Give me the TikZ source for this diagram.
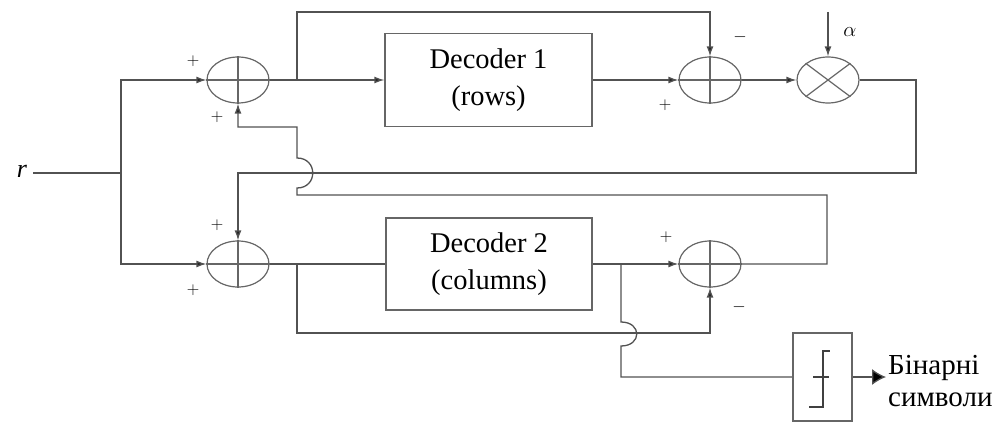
\documentclass[tikz,border=0pt]{standalone}
\usepackage{fontspec}
\setmainfont{Liberation Serif}
\usetikzlibrary{shapes.geometric,arrows.meta}
\begin{document}
\begin{tikzpicture}[x=1pt,y=-1pt,
  wire/.style={draw=black!68, line width=1.3pt},
  sig/.style={wire, -{Latex[length=10pt,width=7pt,fill=black!85]}},
  sumj/.style={ellipse, draw=black!60, line width=1.2pt, minimum width=62pt,
    minimum height=46pt, inner sep=0pt},
  block/.style={rectangle, draw=black!60, line width=1.3pt, inner sep=0pt,
    align=center, font=\fontsize{28.5}{37}\selectfont},
  sign/.style={inner sep=0pt, font=\fontsize{18}{18}\selectfont}
]
\useasboundingbox (0,0) rectangle (992,425);

% summing junctions, multiplier, decoders, hard decision
\node[sumj] (s1) at (238,80) {};
\node[sumj] (s2) at (238,264) {};
\node[sumj] (s3) at (710,80) {};
\node[sumj] (s4) at (710,264) {};
\node[sumj] (m)  at (828,80) {};
\node[block, minimum width=207pt, minimum height=93pt] (d1) at (488.5,80) {Decoder 1\\(rows)};
\node[block, minimum width=206pt, minimum height=92pt] (d2) at (489,264) {Decoder 2\\(columns)};
\node[rectangle, draw=black!60, line width=2.2pt, minimum width=59pt,
  minimum height=88pt, inner sep=0pt] (th) at (822.5,377) {};

% crosses inside the junctions
\foreach \s in {s1,s2,s3,s4}{
  \draw[draw=black!60, line width=1.2pt] (\s.north) -- (\s.south);
  \draw[draw=black!60, line width=1.2pt] (\s.west) -- (\s.east);
}
\draw[draw=black!60, line width=1.2pt] (m.north west) -- (m.south east);
\draw[draw=black!60, line width=1.2pt] (m.north east) -- (m.south west);

% step characteristic
\draw[draw=black!75, line width=2pt] (809,407) -- (823,407) -- (823,351) -- (830,351);
\draw[draw=black!75, line width=2pt] (813,377) -- (829,377);

% input
\node[inner sep=0pt, font=\fontsize{26}{26}\selectfont\itshape] (r) at (22,171) {r};
\coordinate (rin) at (33,173);
\coordinate (jr) at (121,173);
\draw[wire] (rin) -- (jr);
\draw[sig] (jr) |- (s1.west);
\draw[sig] (jr) |- (s2.west);

% row decoder branch
\draw[sig] (s1.east) -- (d1.west);
\draw[sig] (297,80) -- (297,12) -| (s3.north);
\draw[sig] (d1.east) -- (s3.west);
\draw[sig] (s3.east) -- (m.west);
\coordinate (atop) at (828,12);
\draw[sig] (atop) -- (m.north);
\node[inner sep=0pt, font=\fontsize{20}{20}\selectfont] (alpha) at (850,32) {$\alpha$};
\draw[sig] (m.east) -- (916,80) -- (916,173) -| (s2.north);

% column decoder branch
\draw[wire] (s2.east) -- (d2.west);
\draw[sig] (297,264) -- (297,333) -| (s4.south);
\draw[sig] (d2.east) -- (s4.west);
\draw[sig] (s4.east) -- (827,264) -- (827,195) -- (297,195) -- (297,188)
  .. controls (318,188) and (318,158) .. (297,158) -- (297,127) -| (s1.south);
\draw[wire] (621,264) -- (621,322) .. controls (642,322) and (642,346) .. (621,346)
  -- (621,377) -- (th.west);

% output
\coordinate (out) at (886,377);
\draw[wire, -{Latex[length=14pt,width=16pt,fill=black]}] (th.east) -- (out);
\node[anchor=west, align=left, inner sep=0pt, font=\fontsize{29}{32}\selectfont] (lbl)
  at (888,381) {Бінарні\\символи};

% signs
\node[sign] (p1) at (193,61) {$+$};
\node[sign] (p2) at (217,117) {$+$};
\node[sign] (p3) at (217,225) {$+$};
\node[sign] (p4) at (193,290) {$+$};
\node[sign] (p5) at (665,105) {$+$};
\node[sign] (n1) at (740,37) {$-$};
\node[sign] (p6) at (666,237) {$+$};
\node[sign] (n2) at (739,307) {$-$};
\end{tikzpicture}
\end{document}
